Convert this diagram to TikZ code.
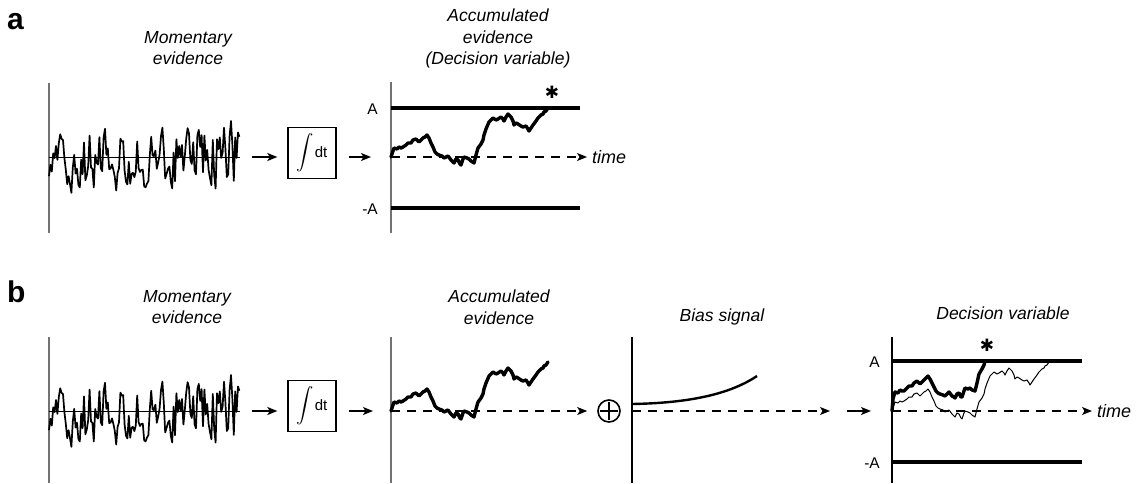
\documentclass[tikz,border=0pt]{standalone}
\usepackage{amsmath}
\usepackage{fontspec}
\setmainfont{Liberation Sans}
\newfontfamily\dejavu{DejaVu Sans}
\usetikzlibrary{arrows.meta}
\begin{document}
\begin{tikzpicture}[x=1pt,y=-1pt,
  title/.style={font=\fontsize{17.5}{21.5}\selectfont\itshape, align=center, inner sep=0pt},
  plabel/.style={font=\fontsize{30}{30}\selectfont\bfseries, anchor=base west, inner sep=0pt},
  lab/.style={font=\fontsize{15.5}{15.5}\selectfont, anchor=east, inner sep=0pt},
  timelab/.style={font=\fontsize{18}{18}\selectfont\itshape, anchor=west, inner sep=0pt},
  star/.style={font=\dejavu\fontsize{17}{17}\selectfont, inner sep=0pt},
  axisg/.style={draw=black!55, line width=1.4pt},
  axisk/.style={draw=black, line width=1.3pt},
  bound/.style={line width=3.8pt},
  trace/.style={line width=3.4pt, line join=round, line cap=round},
  thintrace/.style={line width=1pt, line join=round},
  noisel/.style={line width=1.7pt, line join=round},
  baseln/.style={line width=0.8pt},
  intbox/.style={draw, line width=1.4pt, minimum width=48pt, minimum height=51pt, inner sep=0pt},
  arr/.style={line width=1.4pt, -{Stealth[length=10pt,width=8pt,inset=2.5pt]}},
  darr/.style={line width=1.1pt, dash pattern=on 9pt off 7pt, -{Stealth[length=10pt,width=8pt,inset=2.5pt]}},
  sumnode/.style={circle, draw, line width=1.6pt, minimum size=22pt, inner sep=0pt}
]
\useasboundingbox (0,0) rectangle (1136,483);
% ---- data ----
\pgfmathsetseed{11}
\gdef\noisepts{}%
\gdef\nv{0}%
\foreach \i in {0,...,136}{%
  \pgfmathsetmacro\nn{0.35*\nv+29*rand}%
  \xdef\nv{\nn}%
  \pgfmathsetmacro\xx{1.4*\i}%
  \xdef\noisepts{\noisepts (\xx,\nv)}%
}
\def\accpts{(0,0) (3,-9) (6,-8) (8,-10) (10,-9) (12,-10) (15,-12) (17,-14) (20,-14) (22,-17) (25,-18) (28,-15) (30,-17) (32,-19) (34,-20) (36,-22) (38,-19) (40,-14) (42,-10) (44,-5) (46,-3) (48,-2) (51,-1) (53,1) (55,0) (57,-1) (60,3) (62,5) (63,6) (65,2) (67,3) (69,7) (70,8) (72,2) (73,0) (76,1) (78,2) (80,4) (83,6) (85,-2) (87,-9) (90,-13) (92,-17) (93,-22) (95,-28) (98,-35) (100,-37) (102,-39) (105,-37) (107,-38) (110,-40) (112,-38) (113,-36) (115,-40) (117,-43) (120,-40) (122,-36) (123,-32) (125,-34) (127,-33) (130,-31) (132,-30) (135,-31) (137,-28) (138,-26) (140,-29) (142,-32) (145,-36) (147,-39) (150,-42) (152,-43) (153,-45) (155,-46) (157,-49)}
\def\biaspts{(0,0) (1,-12) (3,-19) (6,-18) (8,-21) (10,-20) (12,-20) (15,-23) (17,-25) (20,-25) (22,-28) (25,-30) (28,-27) (30,-29) (32,-31) (34,-33) (36,-35) (38,-32) (40,-28) (42,-24) (44,-20) (46,-18) (48,-17) (51,-16) (53,-15) (55,-17) (57,-19) (60,-15) (62,-14) (63,-13) (65,-17) (67,-18) (69,-14) (70,-14) (72,-20) (73,-23) (76,-22) (78,-23) (80,-21) (83,-20) (85,-28) (87,-37) (90,-42) (92,-46) (93,-50)}
% ================= panel a =================
\node[plabel] (la) at (7,29) {a};
\node[title, anchor=north] (ta1) at (188,31) {Momentary\\evidence};
\coordinate (a1top) at (49,83);
\coordinate (a1bot) at (49,233);
\draw[axisg] (a1top) -- (a1bot);
\coordinate (a1base) at (49,157);
\coordinate (a1end) at (240,157);
\draw[baseln] (a1base) -- (a1end);
\edef\tmp{\noexpand\draw[noisel, shift={(49,157)}] plot coordinates {\noisepts};}\tmp
\coordinate (a1out) at (252,157);
\node[intbox] (abox) at (312,153) {{\fontsize{19}{19}\selectfont$\displaystyle\int$}\hspace{1pt}{\fontsize{15}{15}\selectfont dt}};
\draw[arr] (a1out) -- ([xshift=-10pt]abox.west |- a1base);
\coordinate (a2base) at (391,157);
\draw[arr] ([xshift=12pt]abox.east |- a1base) -- ([xshift=-20pt]a2base);
\node[title, anchor=north] (ta2) at (498,9) {Accumulated\\evidence\\(Decision variable)};
\coordinate (a2top) at (391,82);
\coordinate (a2bot) at (391,233);
\draw[axisg] (a2top) -- (a2bot);
\coordinate (aAl) at (391,108); \coordinate (aAr) at (580,108);
\coordinate (amAl) at (391,208); \coordinate (amAr) at (580,208);
\draw[bound] (aAl) -- (aAr);
\draw[bound] (amAl) -- (amAr);
\node[lab] (aA) at (378,109) {A};
\node[lab] (amA) at (378,209) {-A};
\node[timelab] (atime) at (592,157) {time};
\draw[darr, shorten >=5pt] (a2base) -- (atime.west);
\draw[trace, shift={(391,157)}] plot coordinates {\accpts};
\node[star] (aast) at (552,92) {✱};
% ================= panel b =================
\node[plabel] (lb) at (7,302) {b};
\node[title, anchor=north] (tb1) at (187,290) {Momentary\\evidence};
\coordinate (b1top) at (49,337);
\coordinate (b1bot) at (49,483);
\draw[axisg] (b1top) -- (b1bot);
\coordinate (b1base) at (49,411);
\coordinate (b1end) at (240,411);
\draw[baseln] (b1base) -- (b1end);
\edef\tmp{\noexpand\draw[noisel, shift={(49,411)}] plot coordinates {\noisepts};}\tmp
\coordinate (b1out) at (252,411);
\node[intbox] (bbox) at (312,406) {{\fontsize{19}{19}\selectfont$\displaystyle\int$}\hspace{1pt}{\fontsize{15}{15}\selectfont dt}};
\draw[arr] (b1out) -- ([xshift=-10pt]bbox.west |- b1base);
\coordinate (b2base) at (391,411);
\draw[arr] ([xshift=12pt]bbox.east |- b1base) -- ([xshift=-18pt]b2base);
\node[title, anchor=north] (tb2) at (499,290) {Accumulated\\evidence};
\coordinate (b2top) at (391,337);
\coordinate (b2bot) at (391,483);
\draw[axisg] (b2top) -- (b2bot);
\node[sumnode] (plus) at (609,411) {};
\draw[line width=1.5pt] ([yshift=-3pt]plus.north) -- ([yshift=3pt]plus.south);
\draw[line width=1.5pt] ([xshift=3pt]plus.west) -- ([xshift=-3pt]plus.east);
\draw[darr] (b2base) -- ([xshift=-10pt]plus.west);
\draw[trace, shift={(391,411)}] plot coordinates {\accpts};
% bias
\node[title, anchor=base] (tb3) at (722,321) {Bias signal};
\coordinate (b3top) at (632,337);
\coordinate (b3bot) at (632,483);
\draw[axisk] (b3top) -- (b3bot);
\coordinate (b3base) at (632,411);
\coordinate (b3tip) at (830,411);
\draw[darr] (b3base) -- (b3tip);
\coordinate (bias0) at (632,404);
\coordinate (bias1) at (757,376);
\draw[line width=2.4pt] (bias0) .. controls (690,403) and (730,394) .. (bias1);
% decision
\coordinate (b4out) at (847,411);
\coordinate (b4base) at (892,411);
\draw[arr] (b4out) -- ([xshift=-21pt]b4base);
\node[title, anchor=base] (tb4) at (1003,319) {Decision variable};
\coordinate (b4top) at (892,337);
\coordinate (b4bot) at (892,483);
\draw[axisk] (b4top) -- (b4bot);
\coordinate (bAl) at (892,361); \coordinate (bAr) at (1082,361);
\coordinate (bmAl) at (892,462); \coordinate (bmAr) at (1082,462);
\draw[bound] (bAl) -- (bAr);
\draw[bound] (bmAl) -- (bmAr);
\node[lab] (bA) at (880,362) {A};
\node[lab] (bmA) at (880,463) {-A};
\node[timelab] (btime) at (1097,411) {time};
\draw[darr, shorten >=5pt] (b4base) -- (btime.west);
\draw[thintrace, shift={(892,411)}] plot coordinates {\accpts};
\draw[trace, shift={(892,411)}] plot coordinates {\biaspts};
\node[star] (bast) at (987,345) {✱};
\end{tikzpicture}
\end{document}
